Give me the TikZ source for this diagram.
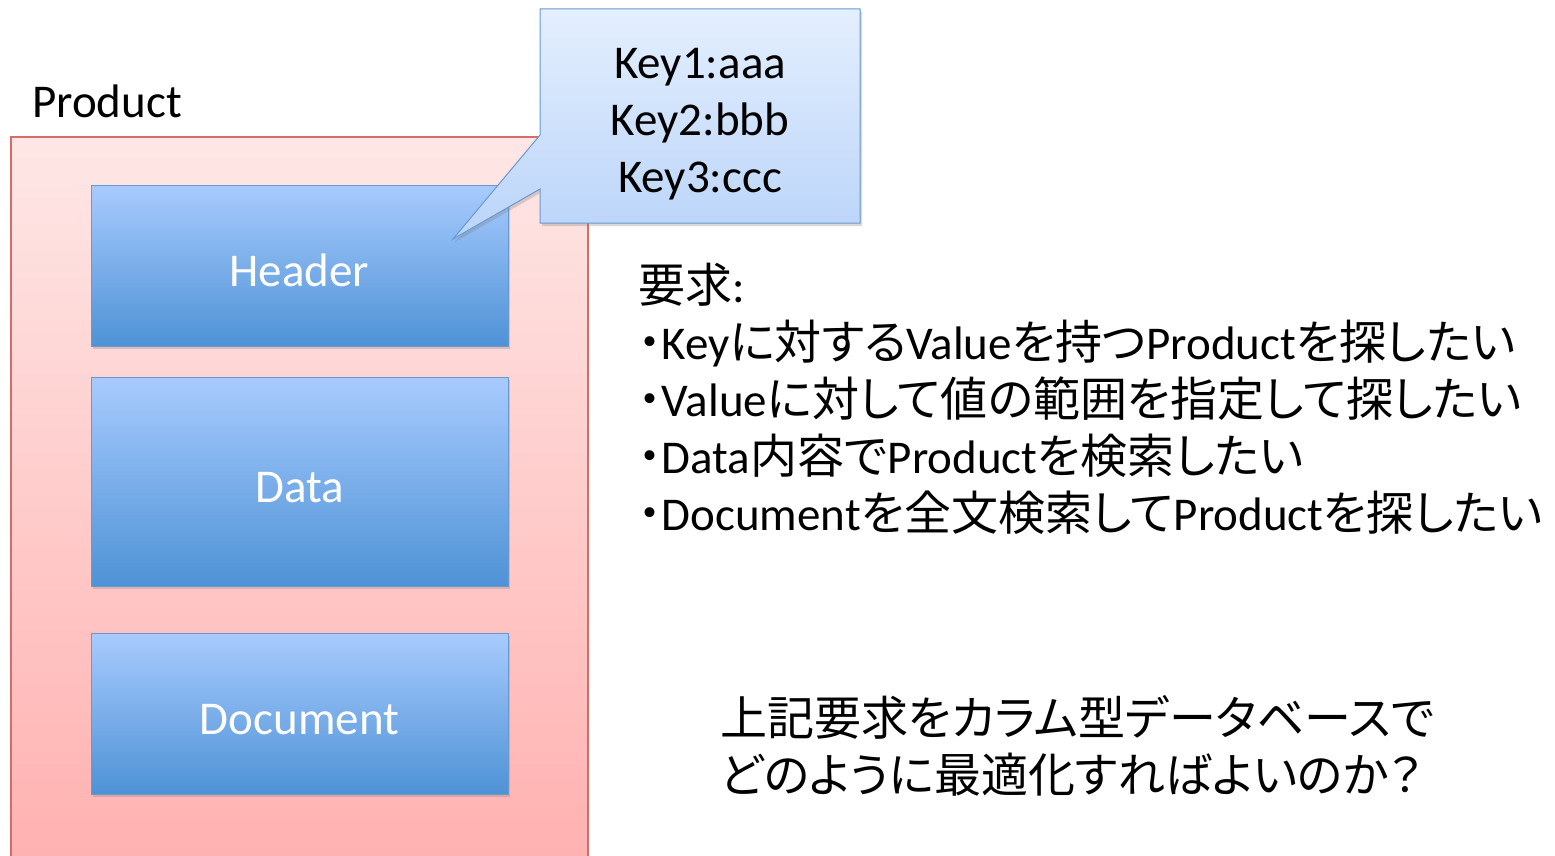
\documentclass[tikz,border=0pt]{standalone}
\usepackage{fontspec}
\setmainfont{Carlito}
\newfontfamily\jp{Noto Sans CJK JP}[RawFeature=+palt]
\usetikzlibrary{shadows,positioning}
\definecolor{prodTop}{RGB}{254,231,230}
\definecolor{prodBottom}{RGB}{255,176,175}
\definecolor{prodLine}{RGB}{212,108,104}
\definecolor{partTop}{RGB}{168,203,254}
\definecolor{partBottom}{RGB}{78,146,214}
\definecolor{partLine}{RGB}{104,154,208}
\definecolor{noteTop}{RGB}{228,239,254}
\definecolor{noteBottom}{RGB}{186,212,249}

\begin{document}
\begin{tikzpicture}[x=1pt,y=-1pt,
  prod/.style={rectangle,draw=prodLine,line width=1.2pt,top color=prodTop,bottom color=prodBottom,
               minimum width=577pt,minimum height=743pt,inner sep=0pt},
  part/.style={rectangle,draw=partLine,line width=1pt,top color=partTop,bottom color=partBottom,
               minimum width=417pt,text=white,font=\fontsize{47}{57}\selectfont,
               text height=41pt,text depth=0pt,
               drop shadow={opacity=0.3,shadow xshift=2pt,shadow yshift=-3pt}},
  note/.style={draw=partLine,line width=1pt,top color=noteTop,bottom color=noteBottom,
               drop shadow={opacity=0.3,shadow xshift=2pt,shadow yshift=-3pt}},
  txt/.style={align=left,inner sep=0pt,font=\fontsize{47}{57}\selectfont}
]
  \clip (0,0) rectangle (1555,856);
  \fill[white] (0,0) rectangle (1555,856);

  % product and its parts
  \node[prod](product) at (299.5,508.5) {};
  \node[txt,anchor=base west](prodlbl) at (32,118) {Product};
  \node[part,minimum height=161pt](header) at (299.5,265.5) {Header};
  \node[part,minimum height=209pt](data)   at (299.5,481.5) {Data};
  \node[part,minimum height=161pt](doc)    at (299.5,713.5) {Document};

  % key/value note pointing at the header
  \draw[note] (540,9) -- (860,9) -- (860,223) -- (540,223) -- (540,189)
      -- (453,239) -- (540,135) -- cycle;
  \node[txt,align=center](keys) at (700,124) {Key1:aaa\\Key2:bbb\\Key3:ccc};

  % requirements (base = last line)
  \node[txt,anchor=base west](reqs) at (638,530) {%
    {\jp 要求}:\\
    {\jp ・}Key{\jp に対する}Value{\jp を持つ}Product{\jp を探したい}\\
    {\jp ・}Value{\jp に対して値の範囲を指定して探したい}\\
    {\jp ・}Data{\jp 内容で}Product{\jp を検索したい}\\
    {\jp ・}Document{\jp を全文検索して}Product{\jp を探したい}};
  \node[txt,anchor=base west](question) at (720,792) {%
    \jp 上記要求をカラム型データベースで\\
    \jp どのように最適化すればよいのか？};
\end{tikzpicture}
\end{document}
